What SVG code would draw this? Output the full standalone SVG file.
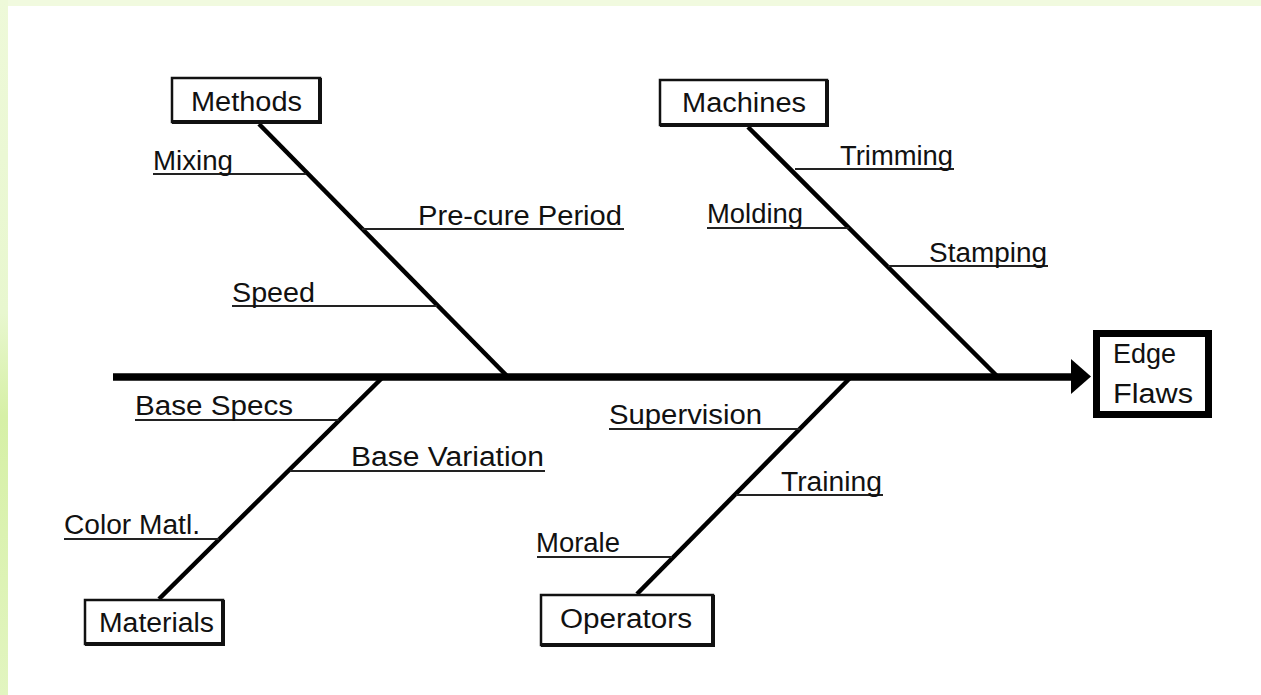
<svg xmlns="http://www.w3.org/2000/svg" width="1261" height="695" viewBox="0 0 1261 695">
<defs>
<linearGradient id="lg" x1="0" y1="0" x2="0" y2="1">
<stop offset="0" stop-color="#eef9d9"/>
<stop offset="0.45" stop-color="#e8f7cf"/>
<stop offset="0.6" stop-color="#d6f0a6"/>
<stop offset="1" stop-color="#e2f5c0"/>
</linearGradient>
<style>
.t{font-family:"Liberation Sans",Arial,sans-serif;font-size:27px;fill:#111}
.u{stroke:#222;stroke-width:2;fill:none}
.b{stroke:#000;stroke-width:4.5;fill:none}
.bx{fill:#fff;stroke:#111;stroke-width:2.5}
.sh{stroke:#111;stroke-width:4;fill:none}
</style>
</defs>
<rect width="1261" height="695" fill="#fff"/>
<rect x="0" y="0" width="1261" height="6" fill="#f1fadf"/>
<rect x="0" y="0" width="8" height="695" fill="url(#lg)"/>

<g id="connectors">
<line x1="113" y1="377" x2="1072" y2="377" stroke="#000" stroke-width="7.5"/>
<polygon points="1071,359 1091,376.5 1071,394" fill="#000"/>
<line class="b" x1="259" y1="124" x2="508" y2="377"/>
<line class="b" x1="748" y1="127" x2="998" y2="377"/>
<line class="b" x1="383" y1="377" x2="159" y2="599"/>
<line class="b" x1="851" y1="377" x2="637" y2="594"/>
</g>

<g id="sub-causes">
<line class="u" x1="153" y1="174" x2="306" y2="174"/>
<text class="t" x="153" y="170" textLength="80" lengthAdjust="spacingAndGlyphs">Mixing</text>
<line class="u" x1="362" y1="229" x2="624" y2="229"/>
<text class="t" x="418" y="225" textLength="204" lengthAdjust="spacingAndGlyphs">Pre-cure Period</text>
<line class="u" x1="232" y1="306" x2="437" y2="306"/>
<text class="t" x="232" y="302" textLength="83" lengthAdjust="spacingAndGlyphs">Speed</text>

<line class="u" x1="795" y1="169" x2="954" y2="169"/>
<text class="t" x="840" y="165" textLength="113" lengthAdjust="spacingAndGlyphs">Trimming</text>
<line class="u" x1="707" y1="228" x2="849" y2="228"/>
<text class="t" x="707" y="223" textLength="96" lengthAdjust="spacingAndGlyphs">Molding</text>
<line class="u" x1="888" y1="266" x2="1048" y2="266"/>
<text class="t" x="929" y="262" textLength="118" lengthAdjust="spacingAndGlyphs">Stamping</text>

<line class="u" x1="135" y1="420" x2="339" y2="420"/>
<text class="t" x="135" y="415" textLength="158" lengthAdjust="spacingAndGlyphs">Base Specs</text>
<line class="u" x1="290" y1="471" x2="545" y2="471"/>
<text class="t" x="351" y="466" textLength="193" lengthAdjust="spacingAndGlyphs">Base Variation</text>
<line class="u" x1="64" y1="539" x2="219" y2="539"/>
<text class="t" x="64" y="534" textLength="136" lengthAdjust="spacingAndGlyphs">Color Matl.</text>

<line class="u" x1="609" y1="429" x2="800" y2="429"/>
<text class="t" x="609" y="424" textLength="153" lengthAdjust="spacingAndGlyphs">Supervision</text>
<line class="u" x1="736" y1="495" x2="883" y2="495"/>
<text class="t" x="781" y="491" textLength="101" lengthAdjust="spacingAndGlyphs">Training</text>
<line class="u" x1="537" y1="557" x2="672" y2="557"/>
<text class="t" x="536" y="552" textLength="84" lengthAdjust="spacingAndGlyphs">Morale</text>
</g>

<g id="methods">
<rect class="bx" x="172" y="78" width="148" height="44"/>
<polyline class="sh" points="320,78 320,122 172,122"/>
<text class="t" x="191" y="111" textLength="111" lengthAdjust="spacingAndGlyphs">Methods</text>
</g>
<g id="machines">
<rect class="bx" x="660" y="80" width="167" height="45"/>
<polyline class="sh" points="827,80 827,125 660,125"/>
<text class="t" x="682" y="112" textLength="124" lengthAdjust="spacingAndGlyphs">Machines</text>
</g>
<g id="materials">
<rect class="bx" x="85" y="600" width="138" height="44"/>
<polyline class="sh" points="223,600 223,644 85,644"/>
<text class="t" x="99" y="632" textLength="115" lengthAdjust="spacingAndGlyphs">Materials</text>
</g>
<g id="operators">
<rect class="bx" x="541" y="595" width="172" height="50"/>
<polyline class="sh" points="713,595 713,645 541,645"/>
<text class="t" x="560" y="628" textLength="132" lengthAdjust="spacingAndGlyphs">Operators</text>
</g>
<g id="edge-flaws">
<rect x="1096.5" y="333.5" width="112" height="81" fill="#fff" stroke="#000" stroke-width="7"/>
<text class="t" x="1113" y="363" textLength="63" lengthAdjust="spacingAndGlyphs">Edge</text>
<text class="t" x="1113" y="403" textLength="80" lengthAdjust="spacingAndGlyphs">Flaws</text>
</g>
</svg>
